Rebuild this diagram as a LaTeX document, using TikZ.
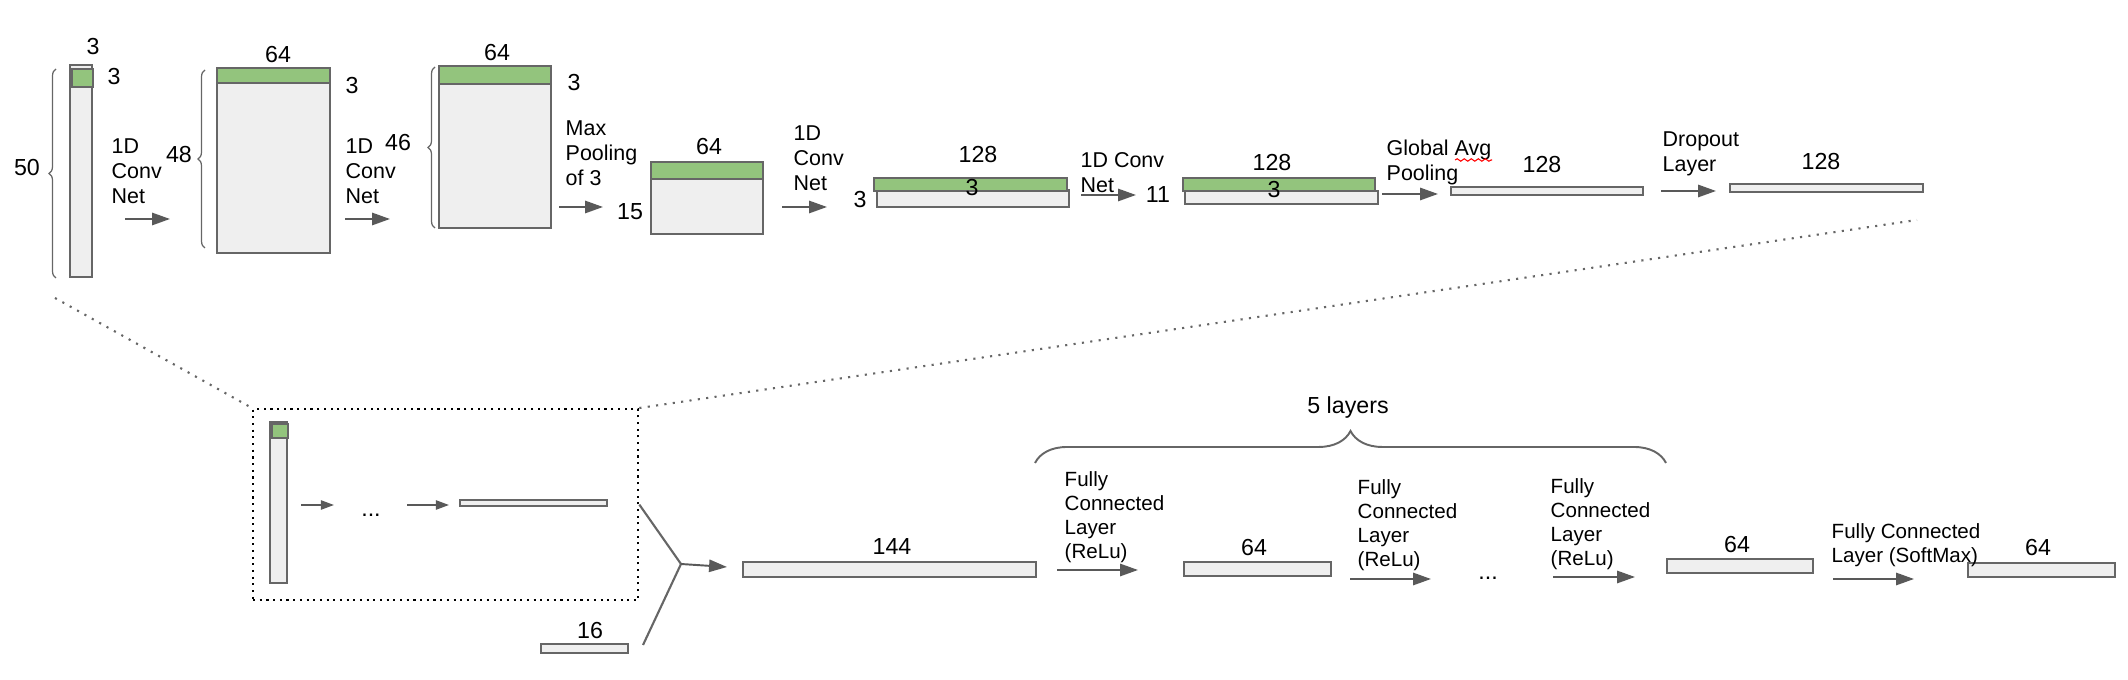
\documentclass[tikz,border=0pt]{standalone}
\usepackage{fontspec}
\setmainfont{Liberation Sans}
\usetikzlibrary{arrows.meta,decorations.pathreplacing,decorations.pathmorphing}
\definecolor{boxfill}{HTML}{EFEFEF}
\definecolor{boxline}{HTML}{666666}
\definecolor{kgreen}{HTML}{93C47D}
\definecolor{arrowgray}{HTML}{595959}

\begin{document}
\begin{tikzpicture}[x=0.01cm, y=-0.01cm]
	\tikzset{
		fm/.style={draw=boxline, fill=boxfill, line width=0.7pt, inner sep=0pt, outer sep=0pt, anchor=north west},
		flt/.style={fm, fill=kgreen},
		num/.style={inner sep=0pt, font=\fontsize{6.6}{7}\selectfont},
		lbl/.style={inner sep=0pt, anchor=north west, align=left, font=\fontsize{6.1}{7.1}\selectfont},
		lblb/.style={lbl, font=\fontsize{5.85}{6.85}\selectfont},
		arr/.style={draw=arrowgray, line width=0.55pt, -{Triangle[length=5.1pt, width=3.5pt]}},
		sarr/.style={draw=arrowgray, line width=0.5pt, -{Triangle[length=3.7pt, width=2.6pt]}},
		brc/.style={draw=boxline, line width=0.35pt, decorate, decoration={brace, amplitude=0.07cm}},
		zoomline/.style={draw=boxline, line width=0.6pt, dash pattern=on 0.6pt off 1.8pt},
		joinline/.style={draw=boxline, line width=0.6pt},
	};
	\useasboundingbox (0,0) rectangle (2128,680);

	% top row: feature maps
	\node[fm, minimum width=0.22cm, minimum height=2.12cm] (in) at (70,65) {};
	\node[flt, minimum width=0.21cm, minimum height=0.18cm] (in k) at (72,69) {};
	\node[fm, minimum width=1.13cm, minimum height=1.85cm] (c1) at (217,68) {};
	\node[flt, minimum width=1.13cm, minimum height=0.15cm] (c1 k) at (217,68) {};
	\node[fm, minimum width=1.12cm, minimum height=1.62cm] (c2) at (439,66) {};
	\node[flt, minimum width=1.12cm, minimum height=0.18cm] (c2 k) at (439,66) {};
	\node[fm, minimum width=1.12cm, minimum height=0.72cm] (mp) at (651,162) {};
	\node[flt, minimum width=1.12cm, minimum height=0.17cm] (mp k) at (651,162) {};
	\node[fm, minimum width=1.92cm, minimum height=0.17cm] (c3) at (877,190) {};
	\node[flt, minimum width=1.93cm, minimum height=0.13cm] (c3 k) at (874,178) {};
	\node[fm, minimum width=1.93cm, minimum height=0.13cm] (c4) at (1185,191) {};
	\node[flt, minimum width=1.92cm, minimum height=0.13cm] (c4 k) at (1183,178) {};
	\node[fm, minimum width=1.92cm, minimum height=0.08cm] (gap) at (1451,187) {};
	\node[fm, minimum width=1.93cm, minimum height=0.08cm] (drop) at (1730,184) {};

	% sizes
	\node[num] at (93,47) {3};
	\node[num] at (114,77) {3};
	\node[num] at (27,168) {50};
	\node[num] at (179,155) {48};
	\node[num] at (278,55) {64};
	\node[num] at (352,86) {3};
	\node[num] at (398,143) {46};
	\node[num] at (497,53) {64};
	\node[num] at (574,83) {3};
	\node[num] at (630,212) {15};
	\node[num] at (709,147) {64};
	\node[num] at (860,200) {3};
	\node[num] at (978,155) {128};
	\node[num] at (972,188) {3};
	\node[num] at (1158,195) {11};
	\node[num] at (1272,163) {128};
	\node[num] at (1274,190) {3};
	\node[num] at (1542,165) {128};
	\node[num] at (1821,162) {128};

	% braces
	\draw[brc] (56,278) -- (56,69);
	\draw[brc] (205,248) -- (205,70);
	\draw[brc] (435,228) -- (435,67);

	% layer labels
	\node[lbl] (l1) at (111,138) {1D\\Conv\\Net};
	\node[lbl] (l2) at (345,138) {1D\\Conv\\Net};
	\node[lbl] (l3) at (565,120) {Max\\Pooling\\of 3};
	\node[lbl] (l4) at (793,125) {1D\\Conv\\Net};
	\node[lbl] (l5) at (1080,152) {1D Conv\\Net};
	\node[lbl] (l6) at (1386,139) {Global Avg\\Pooling};
	\node[lbl] (l7) at (1662,131) {Dropout\\Layer};
	\draw[red, line width=0.3pt, decorate, decoration={snake, amplitude=0.35pt, segment length=2pt}] (1455,160) -- (1492,160);

	\foreach \n/\xa/\xb/\y in {a1/125/170/219, a2/345/390/219, a3/559/603/207, a4/782/827/207,
		a5/1081/1136/195, a6/1382/1438/194, a7/1661/1716/191,
		f1/1057/1138/570, f2/1350/1431/579, f3/1553/1635/577, f4/1833/1914/579}
	{
		\coordinate (\n s) at (\xa,\y);
		\coordinate (\n e) at (\xb,\y);
		\draw[arr] (\n s) -- (\n e);
	}

	% zoomed-out block
	\node[draw, line width=0.6pt, dash pattern=on 0.6pt off 1.3pt, inner sep=0pt, anchor=north west,
		minimum width=3.85cm, minimum height=1.91cm] (zoom) at (252,408) {};
	\node[fm, minimum width=0.17cm, minimum height=1.61cm] (zin) at (270,422) {};
	\node[flt, minimum width=0.16cm, minimum height=0.14cm] (zin k) at (272,424) {};
	\node[fm, minimum width=1.47cm, minimum height=0.06cm] (zout) at (460,500) {};
	\node[num, anchor=base] at (371,517) {...};
	\foreach \n/\xa/\xb in {m1/301/334, m2/407/449}
	{
		\coordinate (\n s) at (\xa,505);
		\coordinate (\n e) at (\xb,505);
		\draw[sarr] (\n s) -- (\n e);
	}
	\coordinate (inbot) at (55,298);
	\coordinate (dropbot) at (1917,220);
	\draw[zoomline] (inbot) -- (zoom.north west);
	\draw[zoomline] (zoom.north east) -- (dropbot);

	\node[fm, minimum width=0.87cm, minimum height=0.09cm] (aux) at (541,644) {};
	\node[num] at (590,631) {16};
	\coordinate (auxend) at (643,645);
	\coordinate (jn) at (681,564);
	\coordinate (fc0tip) at (727,567);
	\draw[joinline] (zoom.east) -- (jn);
	\draw[joinline] (auxend) -- (jn);
	\draw[arr] (jn) -- (fc0tip);

	% bottom row: dense layers
	\node[fm, minimum width=2.93cm, minimum height=0.15cm] (fc0) at (743,562) {};
	\node[fm, minimum width=1.47cm, minimum height=0.14cm] (fc1) at (1184,562) {};
	\node[fm, minimum width=1.46cm, minimum height=0.14cm] (fc5) at (1667,559) {};
	\node[fm, minimum width=1.47cm, minimum height=0.14cm] (out) at (1968,563) {};
	\node[num] at (892,547) {144};
	\node[num] at (1254,548) {64};
	\node[num] at (1737,545) {64};
	\node[num] at (2038,548) {64};
	\node[num, anchor=base] at (1488,580) {...};

	\node[lblb] (fl1) at (1064,471) {Fully\\Connected\\Layer\\(ReLu)};
	\node[lblb] (fl2) at (1357,479) {Fully\\Connected\\Layer\\(ReLu)};
	\node[lblb] (fl3) at (1550,478) {Fully\\Connected\\Layer\\(ReLu)};
	\node[lblb] (fl4) at (1831,523) {Fully Connected\\Layer (SoftMax)};

	\draw[draw=boxline, line width=0.55pt, decorate, decoration={brace, amplitude=0.32cm}] (1035,463) -- (1666,463);
	\node[num, anchor=base] at (1348,414) {5 layers};
\end{tikzpicture}
\end{document}
